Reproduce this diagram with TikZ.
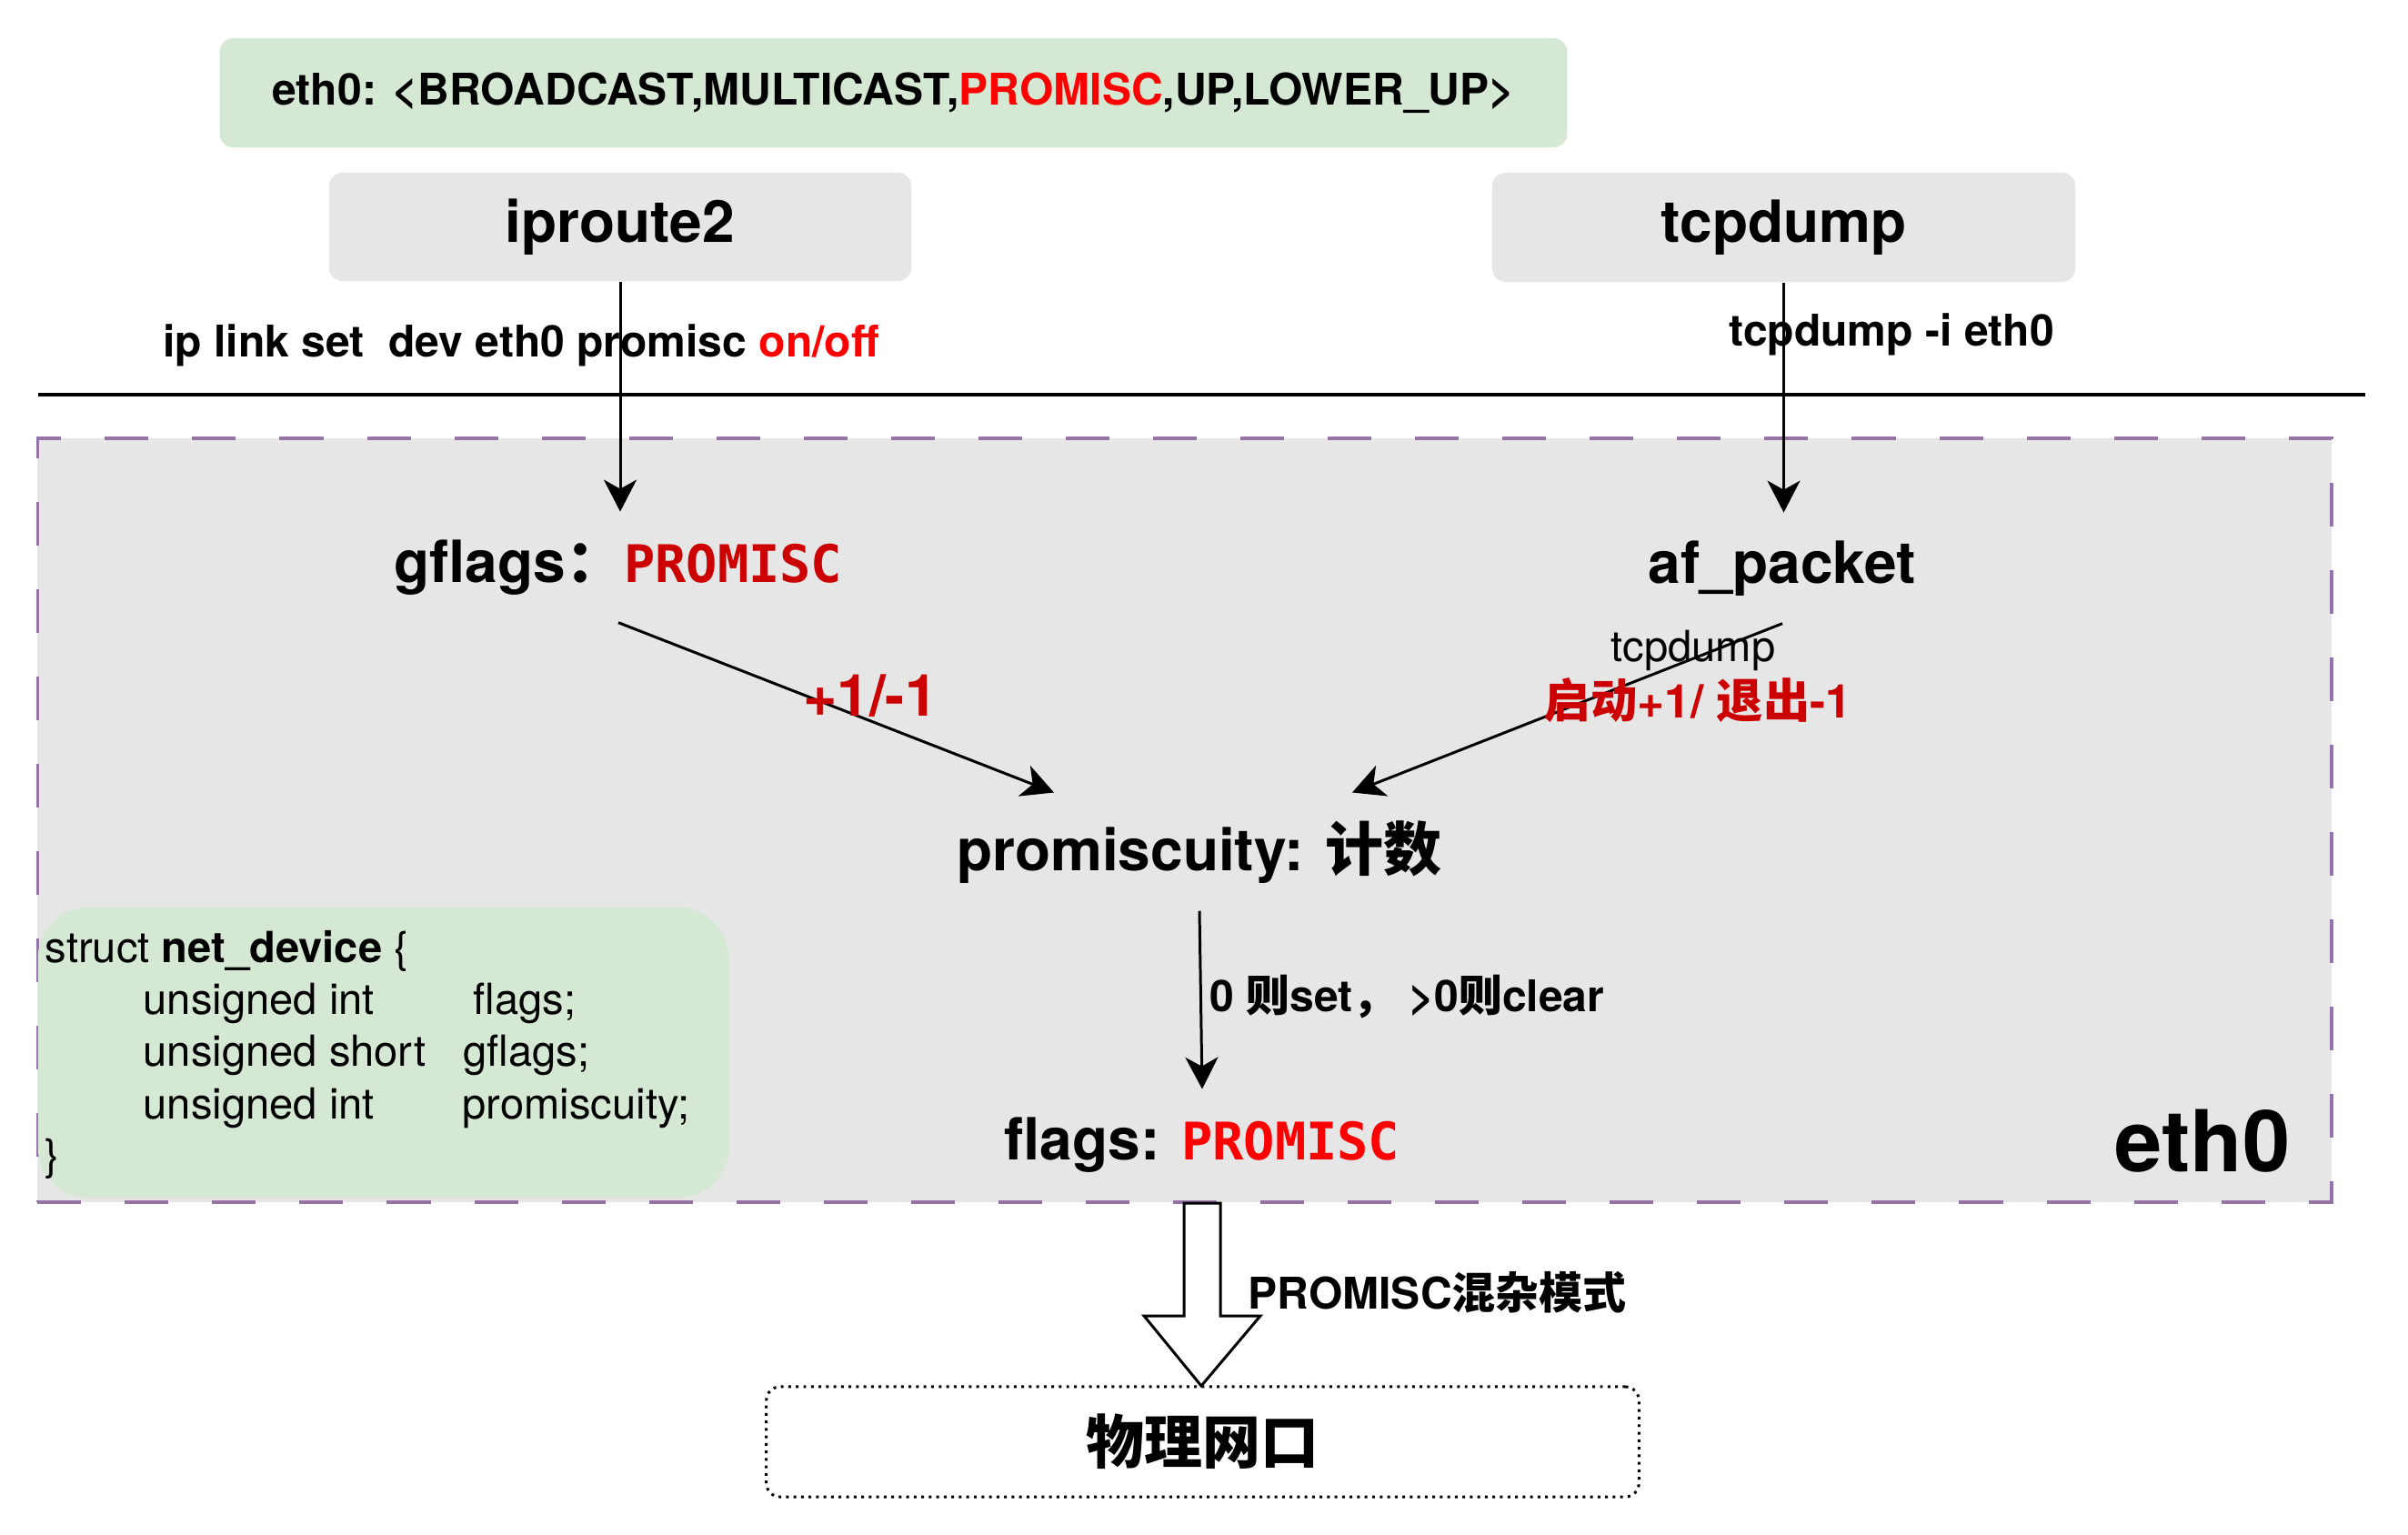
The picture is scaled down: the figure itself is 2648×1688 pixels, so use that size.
\documentclass[tikz,border=0pt]{standalone}
\usepackage{fontspec}
\setmainfont{TeX Gyre Heros}
\newfontfamily\cjk{Noto Sans CJK SC}
\newfontfamily\monob{DejaVu Sans Mono}
\usetikzlibrary{arrows.meta,calc}
\definecolor{gfill}{HTML}{D5E8D4}
\definecolor{grayfill}{HTML}{E6E6E6}
\definecolor{ethborder}{HTML}{9673A6}
\definecolor{darkred}{HTML}{CC0000}
\definecolor{brightred}{HTML}{FF0000}
\begin{document}
\begin{tikzpicture}[x=0.01cm,y=-0.01cm,
  bigfont/.style={font=\fontsize{18.2}{22}\selectfont\bfseries},
  medfont/.style={font=\fontsize{13.66}{16}\selectfont\bfseries},
  codefont/.style={font=\fontsize{13.4}{16}\selectfont, inner sep=0pt, anchor=base west},
  greenbox/.style={fill=gfill, draw=none, rounded corners=0.15cm, inner sep=0pt},
  graybox/.style={fill=grayfill, draw=none, rounded corners=0.15cm, inner sep=0pt},
  txt/.style={inner xsep=0pt, inner ysep=0.3cm, anchor=base},
  lbl/.style={inner sep=0pt, anchor=base},
  arr/.style={-{Stealth[length=0.35cm,width=0.36cm,inset=0.1cm]}, line width=0.85pt},
  ethboxstyle/.style={fill=grayfill, draw=ethborder, line width=1pt, dash pattern=on 0.48cm off 0.48cm, inner sep=0pt}
]
\useasboundingbox (0,0) rectangle (2648,1688);
\fill[white] (0,0) rectangle (2648,1688);

% top flags line
\node[greenbox, medfont, minimum width=14.81cm, minimum height=1.2cm] (flagline) at (982.5,102)
  {eth0: <BROADCAST,MULTICAST,\textcolor{brightred}{PROMISC},UP,LOWER\_UP>};

% user-space tools
\node[graybox, bigfont, minimum width=6.4cm, minimum height=1.19cm] (iproute) at (682,249.5) {iproute2};
\node[graybox, bigfont, minimum width=6.41cm, minimum height=1.2cm] (tcpd) at (1961.5,250) {tcpdump};

% separator
\draw[line width=1.15pt] (42,434) -- (2601,434);

% eth0 box
\node[ethboxstyle, minimum width=25.21cm, minimum height=8.4cm] (ethbox) at (1302.5,902) {};

% struct box
\node[fill=gfill, draw=none, rounded corners=0.55cm, inner sep=0pt, minimum width=7.59cm, minimum height=3.19cm] (structbox) at (421.5,1157.5) {};
\node[codefont] (s1) at (49,1058) {struct \textbf{net\_device} \{};
\node[codefont] (s2a) at (157,1115) {unsigned int};
\node[codefont] (s2b) at (520,1115) {flags;};
\node[codefont] (s3a) at (157,1172) {unsigned short};
\node[codefont] (s3b) at (509,1172) {gflags;};
\node[codefont] (s4a) at (157,1230) {unsigned int};
\node[codefont] (s4b) at (508,1230) {promiscuity;};
\node[codefont] (s5) at (49,1286) {\}};

% labels above separator
\node[lbl, medfont] (iplbl) at (573,392) {ip link set\ \ dev eth0 promisc \textcolor{brightred}{on/off}};
\node[lbl, medfont] (tcplbl) at (2080,380) {tcpdump -i eth0};

% kernel nodes
\node[txt, bigfont] (gflags) at (680,640) {gflags{\cjk ：}{\monob\fontsize{16.2}{20}\selectfont\color{darkred}PROMISC}};
\node[txt, bigfont] (afp) at (1960,641) {af\_packet};
\node[txt, bigfont] (promis) at (1319,957) {promiscuity: {\cjk 计数}};
\node[txt, bigfont] (flags) at (1322,1275) {flags: {\monob\fontsize{16.2}{20}\selectfont\color{brightred}PROMISC}};
\node[lbl, font=\fontsize{26.7}{30}\selectfont\bfseries, anchor=base east] (ethname) at (2519,1288) {eth0};

% connectors
\draw[arr] (iproute.south) -- (iproute.south |- gflags.north);
\draw[arr] (tcpd.south) -- (tcpd.south |- afp.north);
\draw[arr] (gflags.south) -- ($(promis.north)+(-160,0)$);
\draw[arr] (afp.south) -- ($(promis.north)+(168,0)$);
\draw[arr] (promis.south) -- (flags.north);

% connector labels
\node[lbl, bigfont, text=darkred] (pm) at (957,787) {+1/-1};
\node[lbl, font=\fontsize{13.4}{16}\selectfont] (tcplbl2) at (1862,727) {tcpdump};
\node[lbl, font=\fontsize{14.6}{17}\selectfont\bfseries, text=darkred] (startlbl) at (1867,789) {{\cjk 启动}+1/ {\cjk 退出}-1};
\node[lbl, medfont, anchor=base west] (setlbl) at (1330,1112) {0 {\cjk 则}set{\cjk ，}\ >0{\cjk 则}clear};

% hollow arrow to physical NIC
\draw[line width=0.85pt, fill=white, line join=miter]
  (1302,1323) -- (1342,1323) -- (1342,1447) -- (1386,1447) -- (1321,1524) -- (1258,1447) -- (1302,1447) -- cycle;
\node[lbl, medfont, anchor=base west] (promlbl) at (1372,1439) {PROMISC{\cjk 混杂模式}};

% physical NIC
\node[draw, line width=0.85pt, dash pattern=on 0.85pt off 1.5pt, rounded corners=0.15cm, minimum width=9.59cm, minimum height=1.21cm, inner sep=0pt, font=\fontsize{18.2}{22}\selectfont\bfseries\cjk] (nic) at (1322.5,1585.5) {物理网口};
\end{tikzpicture}
\end{document}
